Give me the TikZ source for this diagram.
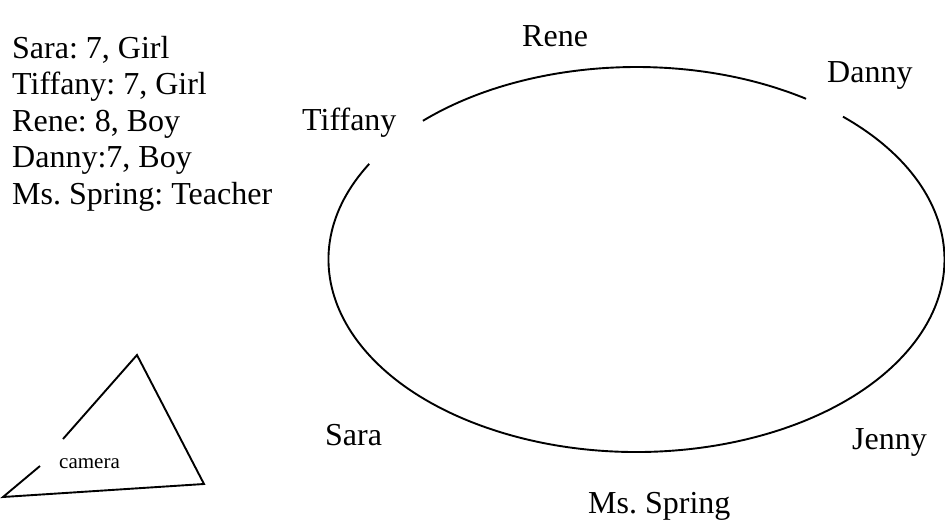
\documentclass[tikz,border=0pt]{standalone}
\usepackage{fontspec}
\setmainfont{Liberation Serif}
\frenchspacing
\begin{document}
\begin{tikzpicture}[x=1pt,y=1pt,
  lbl/.style={anchor=base west,inner sep=0pt,font=\fontsize{32}{36}\selectfont},
  small/.style={anchor=base west,inner sep=0pt,font=\fontsize{21}{24}\selectfont},
  stroke/.style={line width=1.9pt}]
\useasboundingbox (0,0) rectangle (945,523);
% legend
\node[lbl] (l1) at (12,464) {Sara: 7, Girl};
\node[lbl] (l2) at (12,428) {Tiffany: 7, Girl};
\node[lbl] (l3) at (12,391) {Rene: 8, Boy};
\node[lbl] (l4) at (12,355) {Danny:7, Boy};
\node[lbl] (l5) at (12,318) {Ms. Spring: Teacher};
% circle of people
\coordinate (c) at (636.5,263.5);
\draw[stroke] (c) ++(150.2:308 and 192.5) arc[start angle=150.2,end angle=407.9,x radius=308,y radius=192.5];
\draw[stroke] (c) ++(56.6:308 and 192.5) arc[start angle=56.6,end angle=133.9,x radius=308,y radius=192.5];
\node[lbl] (rene) at (522,476) {Rene};
\node[lbl] (tiffany) at (302,392) {Tiffany};
\node[lbl] (danny) at (827,440) {Danny};
\node[lbl] (sara) at (325,78) {Sara};
\node[lbl] (jenny) at (852,74) {Jenny};
\node[lbl] (spring) at (588,10) {Ms. Spring};
% camera
\draw[stroke,line join=miter] (63,84) -- (137,168) -- (204,39) -- (3,26) -- (40,57);
\node[small] (camera) at (59,55) {camera};
\end{tikzpicture}
\end{document}
